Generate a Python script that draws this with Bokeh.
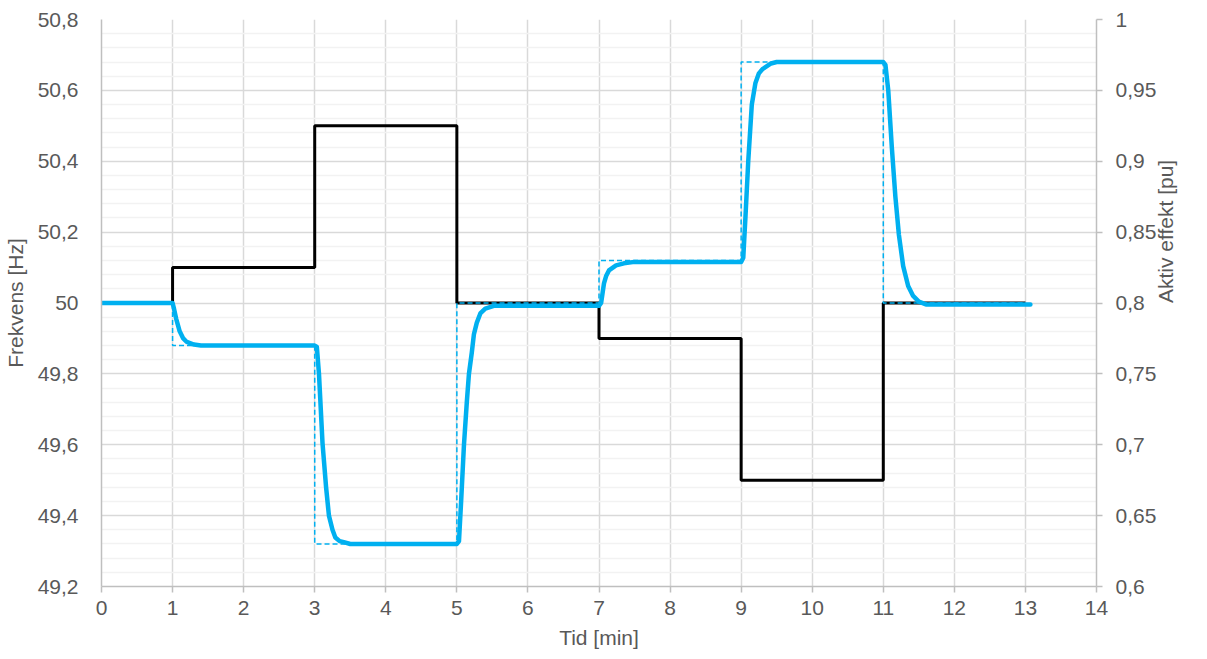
import math
from bokeh.plotting import figure
from bokeh.models import LinearAxis, Range1d, FixedTicker, CustomJSTickFormatter
from bokeh.embed import file_html
from bokeh.resources import INLINE

# ---- data ----
step_times = [0, 1, 3, 5, 7, 9, 11, 13]
freq_hz = [50.0, 50.1, 50.5, 50.0, 49.9, 49.5, 50.0, 50.0]
power_setpoint = [0.8, 0.77, 0.63, 0.8, 0.83, 0.97, 0.8, 0.8]

resp_t = [0, 1.0, 1.02, 1.05, 1.1, 1.15, 1.2, 1.3, 1.4,
          3.0, 3.03, 3.06, 3.11, 3.16, 3.2, 3.25, 3.29, 3.35, 3.41, 3.5,
          5.0, 5.03, 5.06, 5.1, 5.14, 5.17, 5.21, 5.24, 5.28, 5.33, 5.4, 5.52, 5.6,
          7.0, 7.03, 7.07, 7.1, 7.14, 7.24, 7.35, 7.5,
          9.0, 9.03, 9.06, 9.1, 9.15, 9.2, 9.25, 9.3, 9.42, 9.5,
          11.0, 11.03, 11.07, 11.12, 11.17, 11.22, 11.28, 11.35, 11.42, 11.5, 11.6, 13.07]
resp_p = [0.8, 0.8, 0.796, 0.789, 0.780, 0.775, 0.7725, 0.7707, 0.77,
          0.77, 0.769, 0.75, 0.701, 0.67, 0.65, 0.64, 0.6346, 0.632, 0.6313, 0.63,
          0.63, 0.632, 0.66, 0.70, 0.73, 0.75, 0.765, 0.778, 0.786, 0.7926, 0.796, 0.798, 0.798,
          0.798, 0.80, 0.8138, 0.819, 0.823, 0.8265, 0.828, 0.829,
          0.829, 0.832, 0.86, 0.90, 0.94, 0.955, 0.962, 0.965, 0.969, 0.97,
          0.97, 0.968, 0.95, 0.91, 0.875, 0.848, 0.826, 0.812, 0.805, 0.801, 0.799, 0.799]

time_ticks = list(range(0, 15))
freq_ticks = [49.2, 49.4, 49.6, 49.8, 50.0, 50.2, 50.4, 50.6, 50.8]
power_ticks = [0.6, 0.65, 0.7, 0.75, 0.8, 0.85, 0.9, 0.95, 1.0]

x_title = "Tid [min]"
left_title = "Frekvens [Hz]"
right_title = "Aktiv effekt [pu]"

# ---- styling ----
FONT = "Liberation Sans"
TXT = "#595959"
AX = "#BFBFBF"
BLUE = "#00B0F0"

minor_ticks = []
for a, b in zip(freq_ticks[:-1], freq_ticks[1:]):
    for k in range(1, 5):
        minor_ticks.append(a + (b - a) * k / 5)

p = figure(width=1191, height=651, x_range=Range1d(0, 14), y_range=Range1d(49.2, 50.8),
           output_backend="svg", toolbar_location=None,
           min_border_left=92, min_border_right=93, min_border_top=19, min_border_bottom=65)
p.extra_y_ranges = {"pu": Range1d(0.6, 1.0)}
p.outline_line_color = None
p.background_fill_color = "white"
p.border_fill_color = "white"

fmt = CustomJSTickFormatter(code="return String(+tick.toFixed(2)).replace('.', ',');")

# x axis
xa = p.xaxis[0]
xa.ticker = FixedTicker(ticks=time_ticks)
xa.axis_label = x_title

# left axis
ya = p.yaxis[0]
ya.ticker = FixedTicker(ticks=freq_ticks, minor_ticks=minor_ticks)
ya.formatter = fmt
ya.axis_label = left_title

yr = LinearAxis(y_range_name="pu", ticker=FixedTicker(ticks=power_ticks), formatter=fmt,
                axis_label=right_title)
p.add_layout(yr, "right")

for ax in (xa, ya, yr):
    ax.axis_line_color = AX
    ax.axis_line_width = 1.5
    ax.major_tick_line_color = AX
    ax.major_tick_line_width = 1.5
    ax.major_tick_in = 0
    ax.major_tick_out = 6
    ax.minor_tick_line_color = None
    ax.major_label_text_font = FONT
    ax.major_label_text_font_size = "21px"
    ax.major_label_text_color = TXT
    ax.axis_label_text_font = FONT
    ax.axis_label_text_font_size = "21px"
    ax.axis_label_text_color = TXT
    ax.axis_label_text_font_style = "normal"

ya.major_tick_out = 0
ya.major_label_standoff = 19
ya.axis_label_standoff = 8
yr.major_label_standoff = 13
yr.axis_label_standoff = 6
yr.axis_label_orientation = math.pi / 2
xa.major_label_standoff = 8
xa.axis_label_standoff = 8

p.xgrid.grid_line_color = "#D9D9D9"
p.xgrid.grid_line_width = 1.5
p.ygrid.grid_line_color = "#D9D9D9"
p.ygrid.grid_line_width = 1.5
p.ygrid.minor_grid_line_color = "#F2F2F2"
p.ygrid.minor_grid_line_width = 1.5

# series
p.step(step_times, freq_hz, mode="after", line_color="black", line_width=3)
p.step(step_times, power_setpoint, mode="after", line_color=BLUE, line_width=1.5,
       line_dash="5 3", y_range_name="pu")
p.line(resp_t, resp_p, line_color=BLUE, line_width=4.5, y_range_name="pu",
       line_join="round", line_cap="round")

open("out.html", "w").write(file_html(p, INLINE))
